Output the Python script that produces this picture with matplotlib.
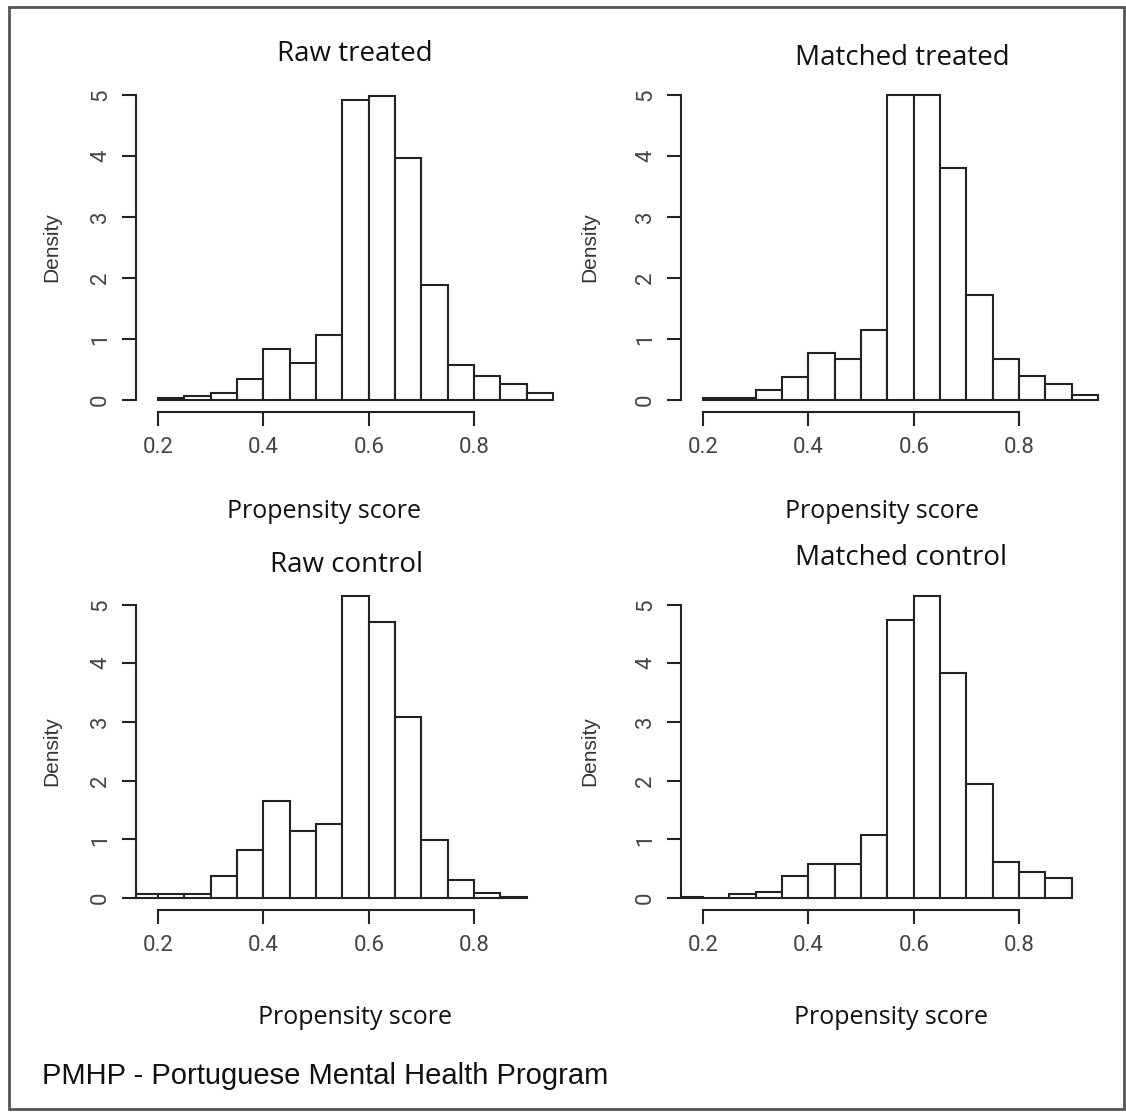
import matplotlib
matplotlib.use("Agg")
import matplotlib.pyplot as plt
from matplotlib.patches import Rectangle

W, H = 1126, 1112

# bin left edges (width 0.05) and densities
treated_bins = [0.20, 0.25, 0.30, 0.35, 0.40, 0.45, 0.50, 0.55, 0.60, 0.65, 0.70, 0.75, 0.80, 0.85, 0.90]
control_bins = [0.15, 0.20, 0.25, 0.30, 0.35, 0.40, 0.45, 0.50, 0.55, 0.60, 0.65, 0.70, 0.75, 0.80, 0.85]
bin_width = 0.05

raw_treated = [0.03, 0.07, 0.12, 0.34, 0.83, 0.60, 1.06, 4.92, 4.98, 3.96, 1.89, 0.57, 0.40, 0.26, 0.12]
matched_treated = [0.03, 0.03, 0.17, 0.38, 0.77, 0.68, 1.15, 5.00, 5.00, 3.81, 1.72, 0.67, 0.40, 0.26, 0.09]
raw_control = [0.07, 0.07, 0.07, 0.38, 0.82, 1.65, 1.14, 1.26, 5.15, 4.70, 3.08, 0.99, 0.31, 0.09, 0.02]
matched_control = [0.02, 0.00, 0.06, 0.11, 0.38, 0.58, 0.58, 1.08, 4.74, 5.14, 3.83, 1.94, 0.61, 0.44, 0.34]

titles = ["Raw treated", "Matched treated", "Raw control", "Matched control"]
x_ticks = [0.2, 0.4, 0.6, 0.8]
y_ticks = [0, 1, 2, 3, 4, 5]
footer = "PMHP - Portuguese Mental Health Program"

fig = plt.figure(figsize=(W / 100, H / 100), dpi=100)
fig.patch.set_facecolor("white")


def fx(px):
    return px / W


def fy(py):
    return 1 - py / H


# panel layout in pixels: (y-axis x, zero y, pixels per density unit, ylim)
xlim = (0.158, 0.96)
px_per_x = 526.7
panels = [
    (136, 400, 61.0, (-0.2, 5.2), treated_bins, raw_treated),
    (681, 400, 61.0, (-0.2, 5.2), treated_bins, matched_treated),
    (136, 898, 58.7, (-0.21, 5.36), control_bins, raw_control),
    (681, 898, 58.7, (-0.21, 5.36), control_bins, matched_control),
]
title_pos = [(355, 61), (902, 65), (347, 572), (901, 565)]
xlabel_pos = [(324, 518), (882, 518), (355, 1024), (891, 1024)]
ylabel_pos = [(52, 247), (590, 247), (52, 751), (590, 751)]

line_col = "#222222"
for i, (x0, y0, unit, ylim, bins, dens) in enumerate(panels):
    left = x0
    right = x0 + (xlim[1] - xlim[0]) * px_per_x
    bottom = y0 - ylim[0] * unit
    top = y0 - ylim[1] * unit
    ax = fig.add_axes([fx(left), fy(bottom), fx(right - left), (bottom - top) / H])
    ax.bar(bins, dens, width=bin_width, align="edge", color="white",
           edgecolor=line_col, linewidth=1.5)
    ax.set_xlim(*xlim)
    ax.set_ylim(*ylim)
    ax.patch.set_alpha(0)
    for s in ["top", "right"]:
        ax.spines[s].set_visible(False)
    ax.spines["left"].set_bounds(0, 5)
    ax.spines["bottom"].set_bounds(0.2, 0.8)
    for s in ["left", "bottom"]:
        ax.spines[s].set_color(line_col)
        ax.spines[s].set_linewidth(1.5)
    ax.set_xticks(x_ticks)
    ax.set_xticklabels(["0.2", "0.4", "0.6", "0.8"])
    ax.set_yticks(y_ticks)
    ax.set_yticklabels([str(v) for v in y_ticks], rotation=90, va="center")
    ax.tick_params(direction="out", length=10, width=1.5, color=line_col,
                   labelsize=16, labelcolor="#444444", pad=8)
    for lab in ax.get_xticklabels() + ax.get_yticklabels():
        lab.set_family("Roboto")

    tx, ty = title_pos[i]
    fig.text(fx(tx), fy(ty), titles[i], ha="center", va="baseline",
             fontsize=20, family="Open Sans", color="#111111")
    lx, ly = xlabel_pos[i]
    fig.text(fx(lx), fy(ly), "Propensity score", ha="center", va="baseline",
             fontsize=18, family="Open Sans", color="#111111")
    dx, dy = ylabel_pos[i]
    fig.text(fx(dx), fy(dy), "Density", ha="center", va="center", rotation=90,
             fontsize=15, family="Liberation Sans", color="#333333")

fig.text(fx(42), fy(1084), footer, ha="left", va="baseline",
         fontsize=21, family="Liberation Sans", color="#111111")

# grey frame round the whole picture
fig.patches.append(Rectangle((fx(9), fy(1109)), fx(1124 - 9), (1109 - 7) / H,
                             transform=fig.transFigure, fill=False,
                             edgecolor="#555555", linewidth=2))

fig.savefig("out.png", dpi=100)
